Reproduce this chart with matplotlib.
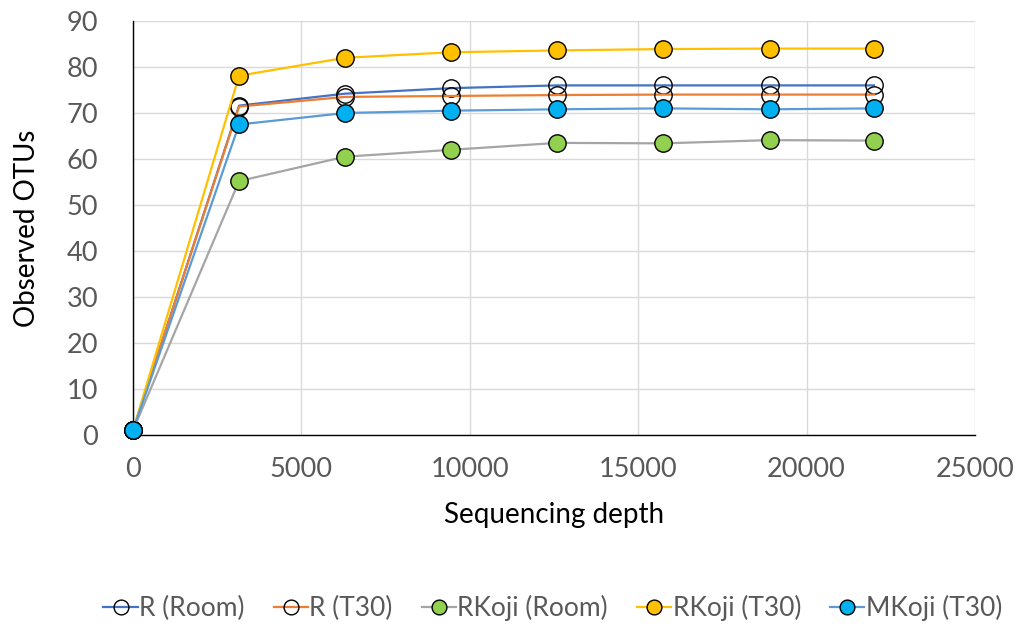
import matplotlib
matplotlib.use('Agg')
import matplotlib.pyplot as plt

# rarefaction data: observed OTUs per sequencing depth
depth = [1, 3150, 6300, 9450, 12600, 15750, 18900, 22000]
r_room = [1, 71.6, 74.2, 75.4, 76.0, 76.0, 76.0, 76.0]
r_t30 = [1, 71.4, 73.5, 73.7, 73.9, 74.0, 74.0, 74.0]
rkoji_room = [1, 55.2, 60.5, 62.0, 63.5, 63.4, 64.1, 64.0]
rkoji_t30 = [1, 78.1, 82.0, 83.2, 83.6, 83.9, 84.0, 84.0]
mkoji_t30 = [1, 67.5, 70.0, 70.5, 70.8, 71.0, 70.8, 71.0]

labels = ['R (Room)', 'R (T30)', 'RKoji (Room)', 'RKoji (T30)', 'MKoji (T30)']
series = [r_room, r_t30, rkoji_room, rkoji_t30, mkoji_t30]
line_colors = ['#4472C4', '#ED7D31', '#A5A5A5', '#FFC000', '#5B9BD5']
face_colors = ['none', 'none', '#92D050', '#FFC000', '#00B0F0']

plt.rcParams['font.family'] = ['Lato', 'DejaVu Sans']

fig = plt.figure(figsize=(10.18, 6.3), dpi=100)
ax = fig.add_axes([0.1306, 0.3095, 0.8272, 0.6572])

for vals, lab, lc, fc in zip(series, labels, line_colors, face_colors):
    ax.plot(depth, vals, color=lc, lw=1.6, marker='o', markersize=12.5,
            markerfacecolor=fc, markeredgecolor='black', markeredgewidth=1.0,
            label=lab, clip_on=False, zorder=3)

ax.set_xlim(0, 25000)
ax.set_ylim(0, 90)
ax.set_xticks(range(0, 25001, 5000))
ax.set_yticks(range(0, 91, 10))
ax.grid(True, color='#D9D9D9', lw=1.0)
ax.set_axisbelow(True)
for s in ['top', 'right']:
    ax.spines[s].set_visible(False)
for s in ['left', 'bottom']:
    ax.spines[s].set_color('black')
    ax.spines[s].set_linewidth(1.0)
ax.tick_params(length=0, labelsize=19.5, labelcolor='#595959')
ax.tick_params(axis='x', pad=16)
ax.tick_params(axis='y', pad=25)

ax.set_xlabel('Sequencing depth', fontsize=20, color='black', va='center')
ax.set_ylabel('Observed OTUs', fontsize=20, color='black', va='center')
ax.xaxis.set_label_coords(0.5, -0.193)
ax.yaxis.set_label_coords(-0.126, 0.5)

fig.legend(loc='center', bbox_to_anchor=(0.543, 0.035), ncol=5, frameon=False,
           fontsize=19, labelcolor='#595959', handlelength=1.3,
           handletextpad=0.05, columnspacing=1.1, markerscale=0.85)

fig.savefig('out.png', dpi=100)
